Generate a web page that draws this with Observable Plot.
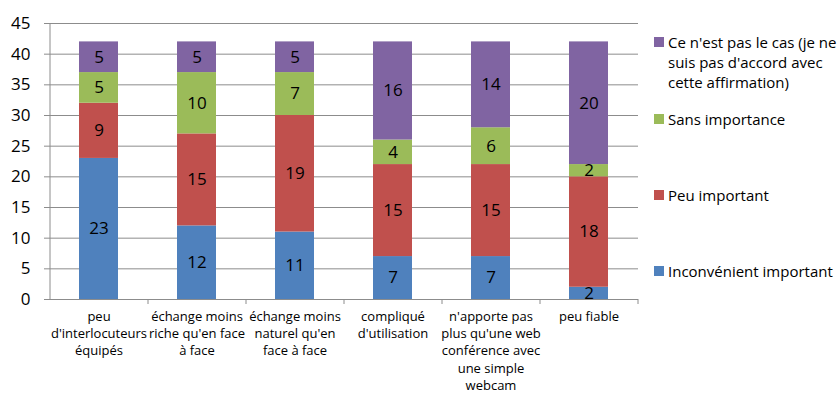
<!DOCTYPE html>
<html><head><meta charset="utf-8">
<script src="https://cdn.jsdelivr.net/npm/d3@7"></script>
<script src="https://cdn.jsdelivr.net/npm/@observablehq/plot@0.6"></script>
<style>
body{margin:0;background:#fff;font-family:"Open Sans",sans-serif;}
#wrap{position:relative;width:839px;height:394px;overflow:hidden;background:#fff}
#legend{position:absolute;left:654px;top:0;width:185px;height:394px}
.item{position:absolute;left:0;width:185px}
.sw{position:absolute;left:0;width:10px;height:10px;top:5px}
.lab{position:absolute;left:14px;width:175px;font-size:15px;line-height:20px;color:#000;white-space:pre}
</style>
</head><body>
<div id="wrap"><div id="chart"></div><div id="legend"></div></div>
<script>
const categories = ["peu d'interlocuteurs équipés","échange moins riche qu'en face à face","échange moins naturel qu'en face à face","compliqué d'utilisation","n'apporte pas plus qu'une web conférence avec une simple webcam","peu fiable"];
const xLabels = ["peu\nd'interlocuteurs\néquipés","échange moins\nriche qu'en face\nà face","échange moins\nnaturel qu'en\nface à face","compliqué\nd'utilisation","n'apporte pas\nplus qu'une web\nconférence avec\nune simple\nwebcam","peu fiable"];
const seriesNames = ["Inconvénient important","Peu important","Sans importance","Ce n'est pas le cas (je ne suis pas d'accord avec cette affirmation)"];
const legendLabels = ["Inconvénient important","Peu important","Sans importance","Ce n'est pas le cas (je ne\nsuis pas d'accord avec\ncette affirmation)"];
const inconvenientImportant = [23,12,11,7,7,2];
const peuImportant = [9,15,19,15,15,18];
const sansImportance = [5,10,7,4,6,2];
const pasLeCas = [5,5,5,16,14,20];
const seriesValues = [inconvenientImportant, peuImportant, sansImportance, pasLeCas];
const colors = ["#4F81BD","#C0504D","#9BBB59","#8064A2"];
const yTicks = [0,5,10,15,20,25,30,35,40,45];

const W = 839, H = 394, mL = 50, mR = 201, mT = 23, mB = 95;
const step = (W - mL - mR) / categories.length;
const tickLen = 5 * 45 / (H - mT - mB);

const data = [];
seriesNames.forEach((s, i) => categories.forEach((c, j) => data.push({cat: c, series: s, value: seriesValues[i][j]})));

const plot = Plot.plot({
  width: W, height: H, marginLeft: mL, marginRight: mR, marginTop: mT, marginBottom: mB,
  style: {fontFamily: "Open Sans", fontSize: "13px", color: "#000", background: "#fff"},
  x: {domain: categories, paddingInner: 0.6, paddingOuter: 0.3, label: null},
  y: {domain: [0, 45], label: null},
  color: {domain: seriesNames, range: colors},
  marks: [
    Plot.ruleY(yTicks, {stroke: "#8c8c8c", strokeOpacity: 1}),
    Plot.ruleX(categories, {x: d => d, dx: step / 2, y1: 0, y2: -tickLen, stroke: "#8c8c8c"}),
    Plot.ruleX([categories[0]], {x: d => d, dx: -step / 2, y1: 0, y2: 45, stroke: "#8c8c8c"}),
    Plot.barY(data, {x: "cat", y: "value", fill: "series"}),
    Plot.text(data, Plot.stackY({x: "cat", y: "value", z: "series", text: "value", fontSize: 17, fill: "#000"})),
    Plot.axisY({ticks: yTicks, tickSize: 6, tickPadding: 14, fontSize: 17, stroke: "#8c8c8c", label: null}),
    Plot.axisX({tickSize: 0, tickPadding: 9, tickFormat: c => xLabels[categories.indexOf(c)], fontSize: 13, lineHeight: 1.33, label: null})
  ]
});
document.getElementById("chart").appendChild(plot);

const legendTops = [261, 185, 109, 32];
const legend = document.getElementById("legend");
seriesNames.forEach((s, i) => {
  const it = document.createElement("div");
  it.className = "item";
  it.style.top = legendTops[i] + "px";
  const sw = document.createElement("div");
  sw.className = "sw";
  sw.style.background = colors[i];
  const lab = document.createElement("div");
  lab.className = "lab";
  lab.textContent = legendLabels[i];
  it.appendChild(sw); it.appendChild(lab);
  legend.appendChild(it);
});
</script>
</body></html>
